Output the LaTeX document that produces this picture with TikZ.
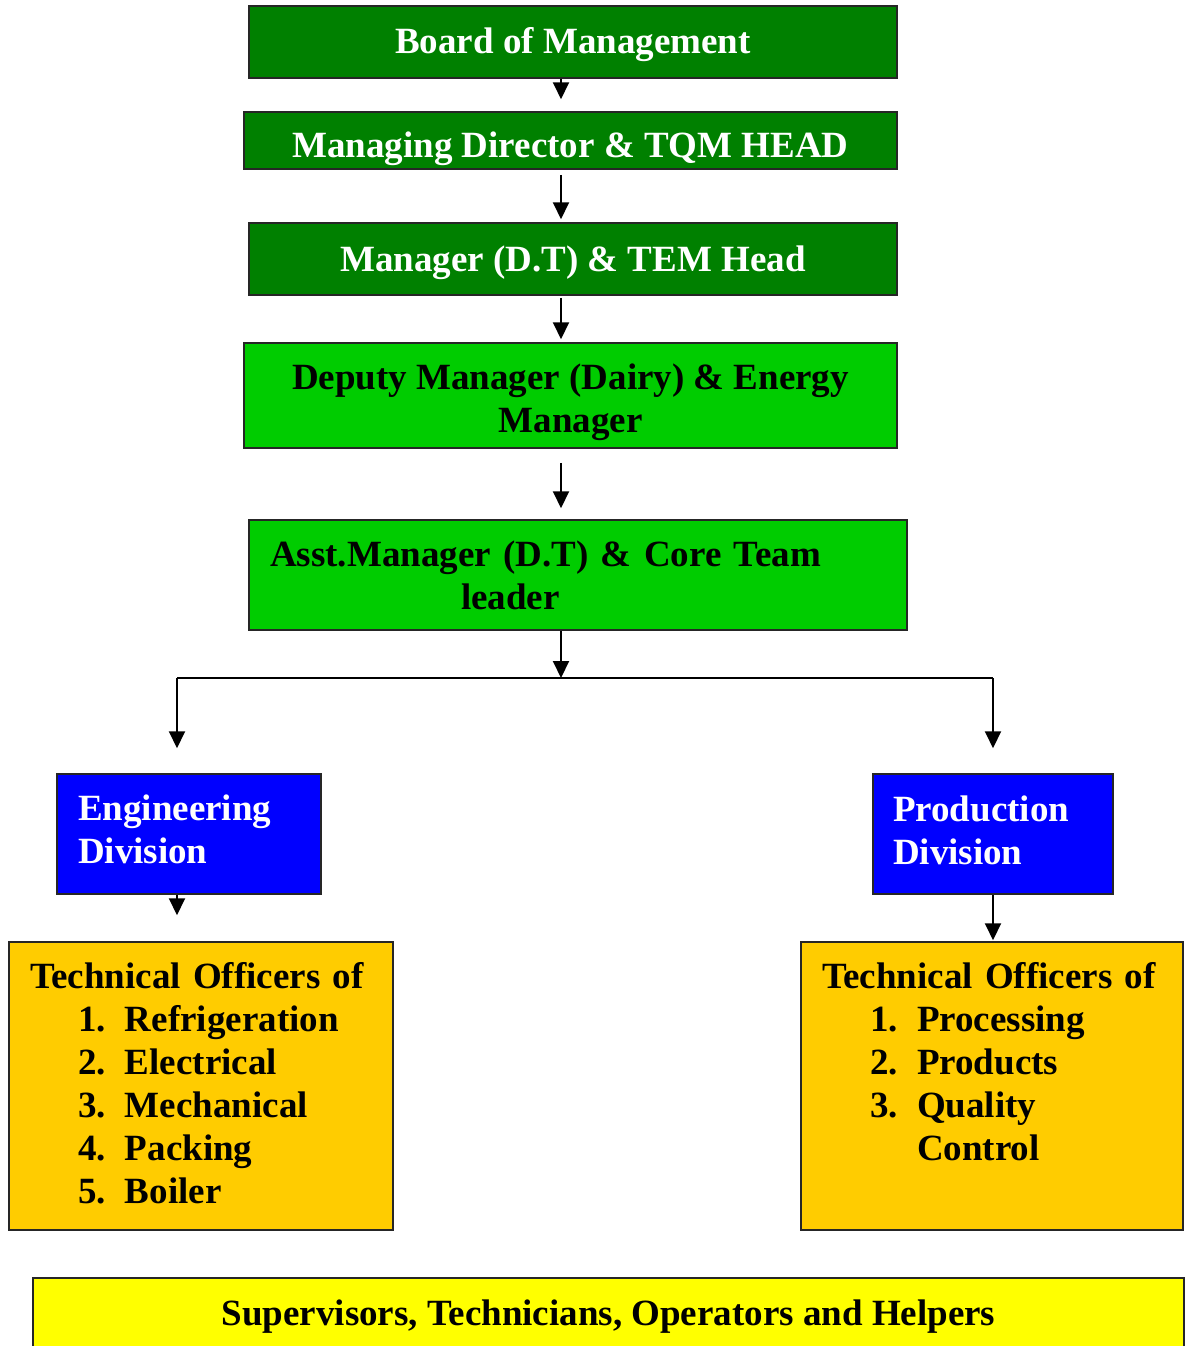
\documentclass[tikz,border=0pt]{standalone}
\usepackage{fontspec}
\setmainfont{Liberation Serif}
\usetikzlibrary{arrows.meta}

\definecolor{darkgreen}{RGB}{0,128,0}
\definecolor{lightgreen}{RGB}{0,204,0}
\definecolor{divblue}{RGB}{0,0,255}
\definecolor{officergold}{RGB}{255,204,0}
\definecolor{staffyellow}{RGB}{255,255,0}

\newcommand{\nudge}[2]{\raisebox{#1}[\height][\depth]{#2}}
\newcommand{\techitem}[2]{\hspace*{48pt}\makebox[47pt][l]{#1}#2}

\begin{document}
\begin{tikzpicture}[x=1pt, y=-1pt,
        level/.style=
            {
                rectangle,
                draw = black!85,
                line width = 1.5pt,
                inner sep = 0pt,
                align = center,
                font = \fontsize{37}{43}\selectfont\bfseries
            },
        head/.style=
            {
                level,
                fill = darkgreen,
                text = white
            },
        deputy/.style=
            {
                level,
                fill = lightgreen,
                text = black
            },
        division/.style=
            {
                level,
                fill = divblue,
                text = white,
                align = left,
                inner xsep = 20pt
            },
        officers/.style=
            {
                level,
                fill = officergold,
                align = left,
                inner xsep = 21pt,
                text width = 342pt,
                minimum height = 288pt
            },
        link/.style=
            {
                line width = 2pt,
                -{Triangle[width=16pt,length=17pt]}
            }
    ]

    \clip (0,0) rectangle (1185,1346);

    \draw (573,42) node[head, minimum width=648pt, minimum height=72pt] (board) {\nudge{-3pt}{Board of Management}};
    \draw (570.5,140.5) node[head, minimum width=653pt, minimum height=57pt] (md) {\nudge{-8pt}{Managing Director \& TQM HEAD}};
    \draw (573,259) node[head, minimum width=648pt, minimum height=72pt] (mgr) {\nudge{-4pt}{Manager (D.T) \& TEM Head}};
    \draw (570.5,395.5) node[deputy, minimum width=653pt, minimum height=105pt] (dm)
        {\nudge{-7pt}{Deputy Manager (Dairy) \& Energy}\\\nudge{-7pt}{Manager}};
    \draw (578,575) node[deputy, align=left, inner xsep=21pt, text width=616pt, minimum height=110pt] (am)
        {Asst.Manager (D.T) \& Core Team\\\hspace*{191pt}leader};

    \draw (189,834) node[division, inner xsep=21pt, text width=222pt, minimum height=120pt] (eng)
        {\nudge{5pt}{Engineering}\\\nudge{5pt}{Division}};
    \draw (993,834) node[division, text width=200pt, minimum height=120pt] (prod)
        {\nudge{4pt}{Production}\\\nudge{4pt}{Division}};

    \draw (201,1086) node[officers] (engoff)
        {\nudge{3pt}{Technical Officers of}\\
         \nudge{3pt}{\techitem{1.}{Refrigeration}}\\
         \nudge{3pt}{\techitem{2.}{Electrical}}\\
         \nudge{3pt}{\techitem{3.}{Mechanical}}\\
         \nudge{3pt}{\techitem{4.}{Packing}}\\
         \nudge{3pt}{\techitem{5.}{Boiler}}};
    \draw (992,1086) node[officers, text width=340pt] (prodoff)
        {\nudge{-3pt}{Technical Officers of}\\
         \nudge{-3pt}{\techitem{1.}{Processing}}\\
         \nudge{-3pt}{\techitem{2.}{Products}}\\
         \nudge{-3pt}{\techitem{3.}{Quality}}\\
         \nudge{-3pt}{\techitem{}{Control}}\\
         \strut};

    \draw (608.5,1314) node[level, fill=staffyellow, minimum width=1151pt, minimum height=72pt] (staff)
        {\nudge{-3pt}{Supervisors, Technicians, Operators and Helpers}};

    % connectors
    \coordinate (spine) at (561,0);
    \coordinate (split) at (561,678);
    \coordinate (engline) at (177,0);

    \draw[link, shorten >=12pt] (board.south -| spine) -- (md.north -| spine);
    \draw[link, shorten <=5pt, shorten >=3pt] (md.south -| spine) -- (mgr.north -| spine);
    \draw[link, shorten <=2pt, shorten >=3pt] (mgr.south -| spine) -- (dm.north -| spine);
    \draw[link, shorten <=14pt, shorten >=11pt] (dm.south -| spine) -- (am.north -| spine);
    \draw[link] (am.south -| spine) -- (split);

    \draw[line width=2pt] (split -| engline) -- (split -| prod.north);
    \draw[link, shorten >=25pt] (split -| engline) -- (eng.north -| engline);
    \draw[link, shorten >=25pt] (split -| prod.north) -- (prod.north);

    \draw[link, shorten >=26pt] (eng.south -| engline) -- (engoff.north -| engline);
    \draw[link, shorten >=1pt] (prod.south) -- (prod.south |- prodoff.north);

\end{tikzpicture}
\end{document}
